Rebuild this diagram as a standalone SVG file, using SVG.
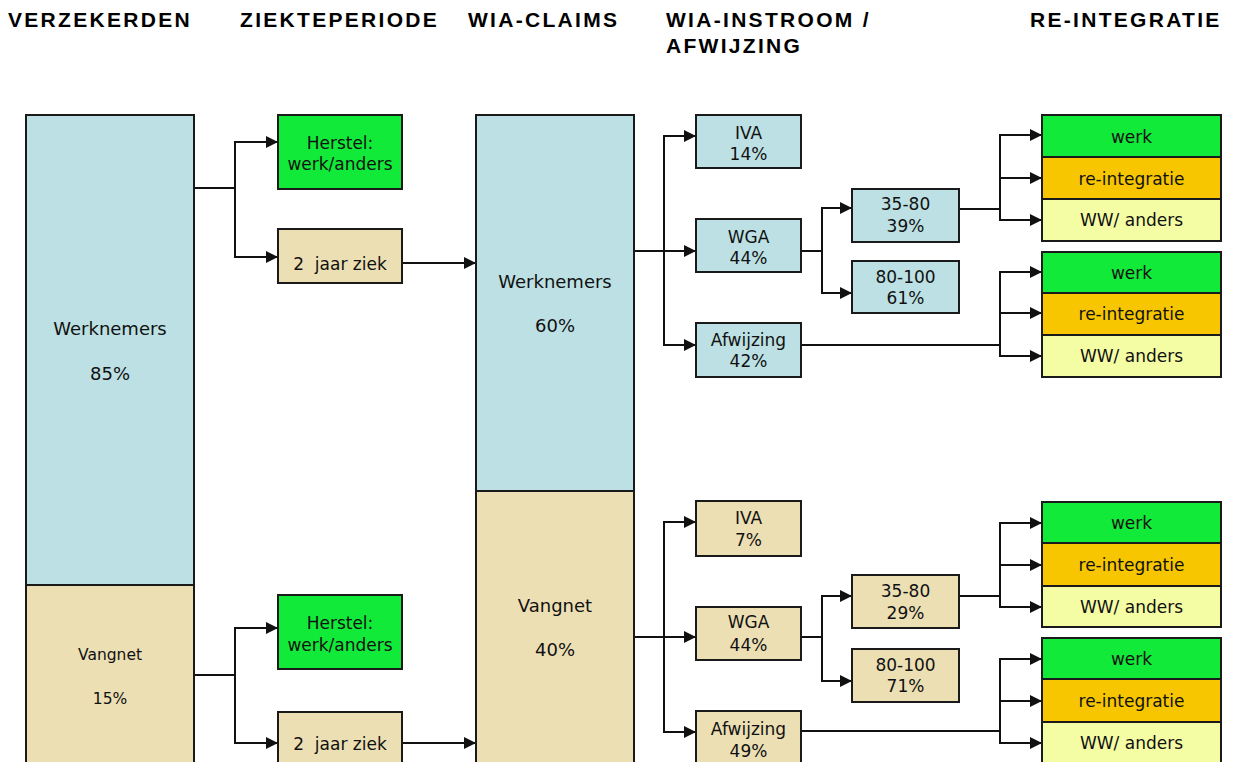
<svg xmlns="http://www.w3.org/2000/svg" width="1240" height="762" viewBox="0 0 1240 762">
<defs>
<style>
.hd{font-family:"Liberation Sans",Arial,sans-serif;font-weight:bold;font-size:21px;letter-spacing:2.3px;fill:#000}
.t{font-family:"DejaVu Sans",Verdana,sans-serif;font-size:17px;fill:#111;text-anchor:middle}
.tl{font-family:"DejaVu Sans",Verdana,sans-serif;font-size:18px;fill:#111;text-anchor:middle}
.ts{font-family:"DejaVu Sans",Verdana,sans-serif;font-size:15.5px;fill:#111;text-anchor:middle}
.box{stroke:#1a1a1a;stroke-width:2}
.blue{fill:#BCE0E3}
.tan{fill:#ECDFB4}
.green{fill:#12EA3A}
.orange{fill:#F7C600}
.yellow{fill:#F5FDA4}
.c{fill:none;stroke:#111;stroke-width:2}
</style>
<marker id="ar" markerUnits="userSpaceOnUse" markerWidth="12" markerHeight="12" viewBox="0 0 12 12" refX="12" refY="6" orient="auto">
<path d="M0,0 L12,6 L0,12 z" fill="#111"/>
</marker>
</defs>
<rect width="1240" height="762" fill="#fff"/>

<g id="headers">
<text class="hd" x="8" y="27">VERZEKERDEN</text>
<text class="hd" x="240" y="27">ZIEKTEPERIODE</text>
<text class="hd" x="468" y="27">WIA-CLAIMS</text>
<text class="hd" x="666" y="27">WIA-INSTROOM /</text>
<text class="hd" x="666" y="53">AFWIJZING</text>
<text class="hd" x="1030" y="27">RE-INTEGRATIE</text>
</g>

<g id="connectors">
<path class="c" d="M194,188 H235 V142 H278" marker-end="url(#ar)"/>
<path class="c" d="M235,188 V257 H278" marker-end="url(#ar)"/>
<path class="c" d="M402,263 H476" marker-end="url(#ar)"/>
<path class="c" d="M194,675 H235 V628 H278" marker-end="url(#ar)"/>
<path class="c" d="M235,675 V743 H278" marker-end="url(#ar)"/>
<path class="c" d="M402,743 H476" marker-end="url(#ar)"/>

<path class="c" d="M634,251 H664 V136 H696" marker-end="url(#ar)"/>
<path class="c" d="M664,251 H696" marker-end="url(#ar)"/>
<path class="c" d="M664,251 V345 H696" marker-end="url(#ar)"/>
<path class="c" d="M801,251 H822 V208 H852" marker-end="url(#ar)"/>
<path class="c" d="M822,251 V293 H852" marker-end="url(#ar)"/>
<path class="c" d="M959,209 H1000 V135 H1042" marker-end="url(#ar)"/>
<path class="c" d="M1000,178 H1042" marker-end="url(#ar)"/>
<path class="c" d="M1000,209 V220 H1042" marker-end="url(#ar)"/>
<path class="c" d="M801,345 H1000 V272 H1042" marker-end="url(#ar)"/>
<path class="c" d="M1000,313 H1042" marker-end="url(#ar)"/>
<path class="c" d="M1000,345 V356 H1042" marker-end="url(#ar)"/>

<path class="c" d="M634,637 H664 V522 H696" marker-end="url(#ar)"/>
<path class="c" d="M664,637 H696" marker-end="url(#ar)"/>
<path class="c" d="M664,637 V732 H696" marker-end="url(#ar)"/>
<path class="c" d="M801,637 H822 V596 H852" marker-end="url(#ar)"/>
<path class="c" d="M822,637 V681 H852" marker-end="url(#ar)"/>
<path class="c" d="M959,596 H1000 V523 H1042" marker-end="url(#ar)"/>
<path class="c" d="M1000,565 H1042" marker-end="url(#ar)"/>
<path class="c" d="M1000,596 V607 H1042" marker-end="url(#ar)"/>
<path class="c" d="M801,731 H1000 V659 H1042" marker-end="url(#ar)"/>
<path class="c" d="M1000,701 H1042" marker-end="url(#ar)"/>
<path class="c" d="M1000,731 V743 H1042" marker-end="url(#ar)"/>
</g>

<g id="verz-werknemers">
<rect class="box blue" x="26" y="115" width="168" height="470"/>
<text class="tl" x="110" y="335">Werknemers</text>
<text class="tl" x="110" y="380">85%</text>
</g>
<g id="verz-vangnet">
<rect class="box tan" x="26" y="585" width="168" height="190"/>
<text class="ts" x="110" y="660">Vangnet</text>
<text class="ts" x="110" y="704">15%</text>
</g>

<g id="herstel-1">
<rect class="box green" x="278" y="115" width="124" height="74"/>
<text class="t" x="340" y="149">Herstel:</text>
<text class="t" x="340" y="170">werk/anders</text>
</g>
<g id="ziek-1">
<rect class="box tan" x="278" y="229" width="124" height="54"/>
<text class="t" x="340" y="270" xml:space="preserve">2  jaar ziek</text>
</g>
<g id="herstel-2">
<rect class="box green" x="278" y="595" width="124" height="74"/>
<text class="t" x="340" y="629">Herstel:</text>
<text class="t" x="340" y="651">werk/anders</text>
</g>
<g id="ziek-2">
<rect class="box tan" x="278" y="712" width="124" height="60"/>
<text class="t" x="340" y="750" xml:space="preserve">2  jaar ziek</text>
</g>

<g id="wia-werknemers">
<rect class="box blue" x="476" y="115" width="158" height="376"/>
<text class="tl" x="555" y="288">Werknemers</text>
<text class="tl" x="555" y="332">60%</text>
</g>
<g id="wia-vangnet">
<rect class="box tan" x="476" y="491" width="158" height="285"/>
<text class="tl" x="555" y="612">Vangnet</text>
<text class="tl" x="555" y="656">40%</text>
</g>

<g id="iva-1">
<rect class="box blue" x="696" y="115" width="105" height="53"/>
<text class="t" x="748.5" y="139">IVA</text>
<text class="t" x="748.5" y="160">14%</text>
</g>
<g id="wga-1">
<rect class="box blue" x="696" y="219" width="105" height="53"/>
<text class="t" x="748.5" y="243">WGA</text>
<text class="t" x="748.5" y="264">44%</text>
</g>
<g id="afw-1">
<rect class="box blue" x="696" y="323" width="105" height="54"/>
<text class="t" x="748.5" y="346">Afwijzing</text>
<text class="t" x="748.5" y="367">42%</text>
</g>
<g id="r3580-1">
<rect class="box blue" x="852" y="189" width="107" height="53"/>
<text class="t" x="905.5" y="210">35-80</text>
<text class="t" x="905.5" y="232">39%</text>
</g>
<g id="r80100-1">
<rect class="box blue" x="852" y="261" width="107" height="52"/>
<text class="t" x="905.5" y="283">80-100</text>
<text class="t" x="905.5" y="304">61%</text>
</g>

<g id="iva-2">
<rect class="box tan" x="696" y="501" width="105" height="55"/>
<text class="t" x="748.5" y="524">IVA</text>
<text class="t" x="748.5" y="546">7%</text>
</g>
<g id="wga-2">
<rect class="box tan" x="696" y="607" width="105" height="53"/>
<text class="t" x="748.5" y="628">WGA</text>
<text class="t" x="748.5" y="651">44%</text>
</g>
<g id="afw-2">
<rect class="box tan" x="696" y="711" width="105" height="60"/>
<text class="t" x="748.5" y="735">Afwijzing</text>
<text class="t" x="748.5" y="757">49%</text>
</g>
<g id="r3580-2">
<rect class="box tan" x="852" y="575" width="107" height="53"/>
<text class="t" x="905.5" y="597">35-80</text>
<text class="t" x="905.5" y="619">29%</text>
</g>
<g id="r80100-2">
<rect class="box tan" x="852" y="649" width="107" height="53"/>
<text class="t" x="905.5" y="671">80-100</text>
<text class="t" x="905.5" y="692">71%</text>
</g>

<g id="reint-1">
<rect class="box green" x="1042" y="115" width="179" height="42"/>
<text class="t" x="1131.5" y="143">werk</text>
<rect class="box orange" x="1042" y="157" width="179" height="42"/>
<text class="t" x="1131.5" y="185">re-integratie</text>
<rect class="box yellow" x="1042" y="199" width="179" height="42"/>
<text class="t" x="1131.5" y="226">WW/ anders</text>
</g>
<g id="reint-2">
<rect class="box green" x="1042" y="252" width="179" height="41"/>
<text class="t" x="1131.5" y="279">werk</text>
<rect class="box orange" x="1042" y="293" width="179" height="42"/>
<text class="t" x="1131.5" y="320">re-integratie</text>
<rect class="box yellow" x="1042" y="335" width="179" height="42"/>
<text class="t" x="1131.5" y="362">WW/ anders</text>
</g>
<g id="reint-3">
<rect class="box green" x="1042" y="502" width="179" height="41"/>
<text class="t" x="1131.5" y="529">werk</text>
<rect class="box orange" x="1042" y="543" width="179" height="43"/>
<text class="t" x="1131.5" y="571">re-integratie</text>
<rect class="box yellow" x="1042" y="586" width="179" height="41"/>
<text class="t" x="1131.5" y="613">WW/ anders</text>
</g>
<g id="reint-4">
<rect class="box green" x="1042" y="638" width="179" height="41"/>
<text class="t" x="1131.5" y="665">werk</text>
<rect class="box orange" x="1042" y="679" width="179" height="43"/>
<text class="t" x="1131.5" y="707">re-integratie</text>
<rect class="box yellow" x="1042" y="722" width="179" height="50"/>
<text class="t" x="1131.5" y="749">WW/ anders</text>
</g>
</svg>
